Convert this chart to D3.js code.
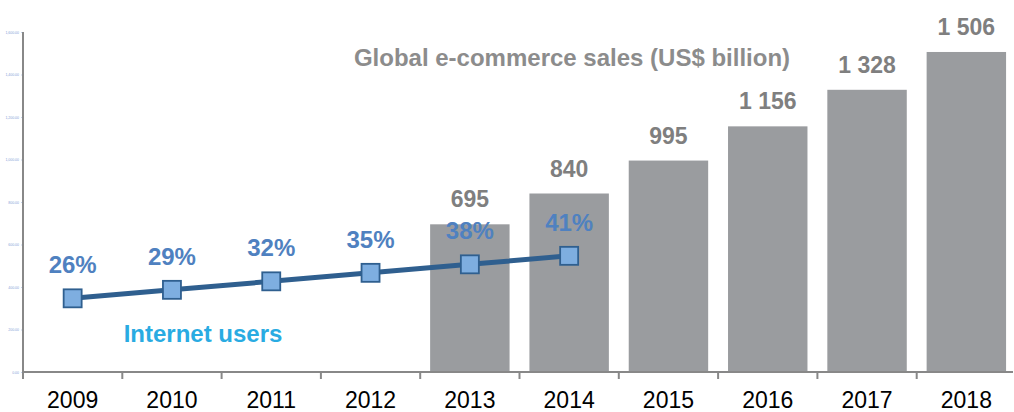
<!DOCTYPE html>
<html lang="en">
	<head>
		<meta charset="utf-8">
		<title>Global e-commerce sales and Internet users</title>
		<script src="https://d3js.org/d3.v7.min.js"></script>
		<style type="text/css">
			body { margin: 0; background: #fff; }
			text { font-family: "Liberation Sans", Arial, sans-serif; }
		</style>
	</head>
	<body>
		<script type="text/javascript">

			// Width and height
			const w = 1014;
			const h = 412;

			const years = ["2009", "2010", "2011", "2012", "2013", "2014", "2015", "2016", "2017", "2018"];
			const salesYears = ["2013", "2014", "2015", "2016", "2017", "2018"];
			const sales = [695, 840, 995, 1156, 1328, 1506];
			const salesLabels = ["695", "840", "995", "1 156", "1 328", "1 506"];
			const userYears = ["2009", "2010", "2011", "2012", "2013", "2014"];
			const users = [26, 29, 32, 35, 38, 41];
			const yTicks = [0, 200, 400, 600, 800, 1000, 1200, 1400, 1600];

			const padL = 23, padR = 1016, padT = 32, base = 372;

			const xScale = d3.scaleBand()
				.domain(years)
				.range([padL, padR]);

			const yScale = d3.scaleLinear()
				.domain([0, 1600])
				.range([base, padT]);

			// hidden secondary scale for the percentage line
			const pScale = d3.scaleLinear()
				.domain([0, 120])
				.range([base, padT]);

			const bw = xScale.bandwidth();
			const barW = bw * 0.8;

			const svg = d3.select("body")
				.append("svg")
				.attr("width", w)
				.attr("height", h);

			// bars
			svg.selectAll("rect.bar")
				.data(sales)
				.enter()
				.append("rect")
				.attr("class", "bar")
				.attr("x", (d, i) => xScale(salesYears[i]) + (bw - barW) / 2)
				.attr("y", (d) => yScale(d))
				.attr("width", barW)
				.attr("height", (d) => base - yScale(d))
				.attr("fill", "#9a9c9f");

			svg.selectAll("text.barlabel")
				.data(sales)
				.enter()
				.append("text")
				.attr("class", "barlabel")
				.attr("x", (d, i) => xScale(salesYears[i]) + bw / 2)
				.attr("y", (d) => yScale(d) - 17)
				.attr("text-anchor", "middle")
				.attr("font-size", "23px")
				.attr("font-weight", "bold")
				.attr("fill", "#7f7f7f")
				.text((d, i) => salesLabels[i]);

			// y axis (tiny labels)
			const yAxis = d3.axisLeft(yScale)
				.tickValues(yTicks)
				.tickSize(2)
				.tickPadding(2)
				.tickFormat(d3.format(",.2f"));

			const gy = svg.append("g")
				.attr("transform", "translate(" + padL + ",0)")
				.call(yAxis);
			gy.select(".domain").remove();
			gy.selectAll(".tick line").attr("stroke", "#9db8e0").attr("stroke-width", 0.6);
			gy.selectAll(".tick text")
				.attr("font-size", "3.5px")
				.attr("fill", "#7fa3d8");

			svg.append("line")
				.attr("x1", padL).attr("x2", padL)
				.attr("y1", padT).attr("y2", base + 7)
				.attr("stroke", "#888")
				.attr("stroke-width", 2);

			// x axis
			const xAxis = d3.axisBottom(xScale)
				.tickSize(0)
				.tickPadding(20);

			const gx = svg.append("g")
				.attr("transform", "translate(0," + base + ")")
				.call(xAxis);
			gx.select(".domain").remove();
			gx.selectAll(".tick text")
				.attr("font-size", "23px")
				.attr("fill", "#000");

			svg.append("line")
				.attr("x1", padL).attr("x2", 1013)
				.attr("y1", base).attr("y2", base)
				.attr("stroke", "#888")
				.attr("stroke-width", 2);

			svg.selectAll("line.xtick")
				.data(years)
				.enter()
				.append("line")
				.attr("class", "xtick")
				.attr("x1", (d) => xScale(d))
				.attr("x2", (d) => xScale(d))
				.attr("y1", base)
				.attr("y2", base + 7)
				.attr("stroke", "#888")
				.attr("stroke-width", 2);

			// internet users line
			const line = d3.line()
				.x((d, i) => xScale(userYears[i]) + bw / 2)
				.y((d) => pScale(d));

			svg.append("path")
				.datum(users)
				.attr("d", line)
				.attr("fill", "none")
				.attr("stroke", "#2f5f8f")
				.attr("stroke-width", 5);

			svg.selectAll("rect.pt")
				.data(users)
				.enter()
				.append("rect")
				.attr("class", "pt")
				.attr("x", (d, i) => xScale(userYears[i]) + bw / 2 - 9)
				.attr("y", (d) => pScale(d) - 9)
				.attr("width", 18)
				.attr("height", 18)
				.attr("fill", "#7eaee0")
				.attr("stroke", "#2f5f8f")
				.attr("stroke-width", 1.8);

			svg.selectAll("text.pct")
				.data(users)
				.enter()
				.append("text")
				.attr("class", "pct")
				.attr("x", (d, i) => xScale(userYears[i]) + bw / 2)
				.attr("y", (d) => pScale(d) - 25)
				.attr("text-anchor", "middle")
				.attr("font-size", "24px")
				.attr("font-weight", "bold")
				.attr("fill", "#4f81c0")
				.text((d) => d + "%");

			// titles
			svg.append("text")
				.attr("x", 572)
				.attr("y", 66)
				.attr("text-anchor", "middle")
				.attr("font-size", "24px")
				.attr("font-weight", "bold")
				.attr("fill", "#8c8c8c")
				.text("Global e-commerce sales (US$ billion)");

			svg.append("text")
				.attr("x", 203)
				.attr("y", 342)
				.attr("text-anchor", "middle")
				.attr("font-size", "24px")
				.attr("font-weight", "bold")
				.attr("fill", "#29abe2")
				.text("Internet users");

		</script>
	</body>
</html>
